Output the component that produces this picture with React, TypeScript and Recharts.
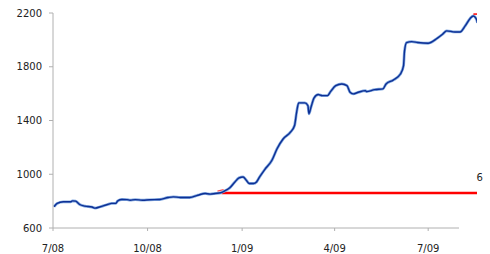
import React from "react";
import { LineChart, Line, XAxis, YAxis, ReferenceLine } from "recharts";

// days since 7/1/08 and index level
const days = [
  1, 4, 10, 17, 19, 22, 26, 31, 38, 41, 46, 53, 57, 61, 63, 67, 72, 75, 80, 87,
  94, 104, 112, 117, 124, 133, 141, 148, 153, 158, 163, 167, 172, 177, 181, 185,
  188, 191, 195, 198, 201, 206, 213, 218, 224, 231, 235, 237, 239, 245, 248, 249,
  251, 254, 258, 262, 267, 270, 275, 281, 286, 289, 292, 297, 304, 305, 313, 321,
  324, 331, 338, 341, 342, 344, 349, 355, 365, 374, 379, 383, 391, 396, 401, 406,
  409, 412, 413,
];
const values = [
  758, 783, 795, 795, 802, 800, 775, 763, 756, 748, 758, 775, 783, 783, 802, 812,
  811, 807, 811, 807, 810, 812, 827, 832, 827, 827, 844, 857, 852, 857, 862, 876,
  899, 943, 973, 980, 956, 931, 931, 943, 980, 1035, 1104, 1190, 1264, 1313,
  1363, 1461, 1531, 1531, 1511, 1450, 1499, 1568, 1593, 1585, 1585, 1615, 1659,
  1672, 1659, 1610, 1598, 1610, 1622, 1615, 1630, 1635, 1672, 1701, 1746, 1807,
  1918, 1980, 1987, 1980, 1975, 2013, 2042, 2067, 2059, 2059, 2104, 2161, 2178,
  2153, 2127,
];

const redDays = [164, 413];
const redValues = [860, 860];
const redLabel = "6";

// little red marks at the start of the red line and at the end of the index
const startMarkDays = [160, 166];
const startMarkValues = [875, 886];
const endMarkDays = [409, 413];
const endMarkValues = [2192, 2192];

const tickDays = [0, 92, 184, 274, 365];
const tickLabels = ["7/08", "10/08", "1/09", "4/09", "7/09"];
const yTicks = [600, 1000, 1400, 1800, 2200];

const mainData = days.map((d, i) => ({ d, v: values[i] }));
const redData = redDays.map((d, i) => ({ d, v: redValues[i] }));
const startMark = startMarkDays.map((d, i) => ({ d, v: startMarkValues[i] }));
const endMark = endMarkDays.map((d, i) => ({ d, v: endMarkValues[i] }));

const font = { fontFamily: "DejaVu Sans", fontSize: 10, fill: "#222" };

const EndLabel = (props: any) => {
  const { x, y, index } = props;
  if (index !== redData.length - 1) return null;
  return (
    <text x={x - 1} y={y - 16} dy="0.35em" style={font} fill="#222">
      {redLabel}
    </text>
  );
};

export default function App() {
  return (
    <div style={{ position: "absolute", left: 0, top: 0 }}>
      <LineChart
        width={490}
        height={254}
        margin={{ top: 13, right: 13, bottom: 9, left: 0 }}
      >
        <XAxis
          dataKey="d"
          type="number"
          domain={[0, 412.5]}
          ticks={tickDays}
          tickFormatter={(t) => tickLabels[tickDays.indexOf(t)]}
          axisLine={false}
          tickLine={{ stroke: "#b0b0b0" }}
          tickSize={3}
          tickMargin={14}
          tick={font}
          height={17}
          allowDataOverflow
        />
        <YAxis
          type="number"
          domain={[600, 2200]}
          ticks={yTicks}
          width={53}
          axisLine={{ stroke: "#b0b0b0" }}
          tickLine={{ stroke: "#b0b0b0" }}
          tickSize={4}
          tickMargin={7}
          tick={font}
          allowDataOverflow
        />
        <ReferenceLine
          segment={[
            { x: 0, y: 600 },
            { x: 395, y: 600 },
          ]}
          stroke="#b0b0b0"
        />
        <Line
          data={redData}
          dataKey="v"
          stroke="#ff0000"
          strokeWidth={2.5}
          dot={false}
          label={<EndLabel />}
          isAnimationActive={false}
        />
        <Line
          data={startMark}
          dataKey="v"
          stroke="#ff5050"
          strokeWidth={1.2}
          dot={false}
          isAnimationActive={false}
        />
        <Line
          data={mainData}
          dataKey="v"
          type="monotone"
          stroke="#80a8e0"
          strokeWidth={2.8}
          dot={false}
          isAnimationActive={false}
        />
        <Line
          data={mainData}
          dataKey="v"
          type="monotone"
          stroke="#0d2f94"
          strokeWidth={1.4}
          dot={false}
          isAnimationActive={false}
        />
        <Line
          data={endMark}
          dataKey="v"
          stroke="#ff0000"
          strokeWidth={1.5}
          dot={false}
          isAnimationActive={false}
        />
      </LineChart>
    </div>
  );
}
